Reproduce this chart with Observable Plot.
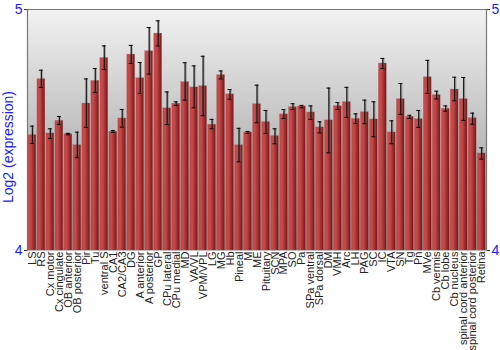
<!DOCTYPE html>
<html>
<head>
<meta charset="utf-8">
<script src="https://cdn.jsdelivr.net/npm/d3@7"></script>
<script src="https://cdn.jsdelivr.net/npm/@observablehq/plot@0.6"></script>
<style>
  body { margin: 0; background: #fff; }
  #chart svg { display: block; font-family: "Liberation Sans", Arial, sans-serif; }
</style>
</head>
<body>
<div id="chart"></div>
<script>
const regions = ["LS","RS","Cx motor","Cx cingulate","OB anterior","OB posterior","Pir","Tu","ventral S","CA1","CA2/CA3","DG","A anterior","A posterior","GP","CPu lateral","CPu medial","MD","VA/VL","VPM/VPL","LG","MG","Hb","Pineal","M","ME","Pituitary","SCN","MPA","SO","Pa","SPa ventral","SPa dorsal","DM","VMH","Arc","LH","PAG","SC","IC","VTA","SN","Tg","Pn","MVe","Cb vermis","Cb lobe","Cb nucleus","spinal cord anterior","spinal cord posterior","Retina"];
const meanValues = [4.479,4.711,4.486,4.538,4.483,4.437,4.610,4.704,4.799,4.493,4.548,4.813,4.715,4.827,4.900,4.590,4.609,4.699,4.677,4.682,4.522,4.728,4.648,4.437,4.490,4.607,4.533,4.475,4.565,4.595,4.598,4.573,4.511,4.540,4.599,4.616,4.546,4.574,4.544,4.776,4.490,4.628,4.555,4.545,4.719,4.645,4.588,4.668,4.628,4.549,4.403];
const errLow = [4.444,4.677,4.465,4.523,4.480,4.385,4.511,4.656,4.751,4.490,4.512,4.776,4.652,4.732,4.849,4.523,4.602,4.624,4.592,4.559,4.505,4.712,4.628,4.368,4.486,4.530,4.486,4.443,4.548,4.585,4.592,4.544,4.488,4.405,4.585,4.552,4.527,4.526,4.472,4.755,4.443,4.565,4.548,4.511,4.652,4.629,4.578,4.621,4.540,4.524,4.379];
const errHigh = [4.516,4.748,4.505,4.556,4.486,4.491,4.712,4.755,4.849,4.498,4.585,4.851,4.780,4.925,4.953,4.658,4.617,4.779,4.766,4.806,4.544,4.745,4.668,4.507,4.494,4.686,4.581,4.505,4.585,4.609,4.602,4.600,4.534,4.674,4.614,4.677,4.567,4.624,4.617,4.797,4.538,4.693,4.561,4.581,4.789,4.661,4.600,4.719,4.718,4.570,4.426];
const yTicks = [4, 5];
const yLabel = "Log2 (expression)";

const data = regions.map((r, i) => ({region: r, value: meanValues[i], lo: errLow[i], hi: errHigh[i]}));
const blue = "#1a1aff";

const chart = Plot.plot({
  width: 500,
  height: 350,
  marginLeft: 27,
  marginRight: 14,
  marginTop: 9,
  marginBottom: 100,
  style: {fontFamily: "'Liberation Sans', Arial, sans-serif", background: "#fff"},
  x: {domain: regions, padding: 0.12, paddingOuter: 0.1, label: null},
  y: {domain: [4, 5], label: null},
  marks: [
    Plot.frame({fill: "url(#bgGrad)", stroke: "none"}),
    Plot.barY(data, {x: "region", y1: 4, y2: "value", fill: "url(#barGrad)", stroke: "#b06060", strokeOpacity: 0.4, strokeWidth: 0.5}),
    Plot.ruleX(data, {x: "region", y1: "lo", y2: "hi", stroke: "#777", strokeWidth: 2.5, strokeOpacity: 0.45, dx: 0.5}),
    Plot.ruleX(data, {x: "region", y1: "lo", y2: "hi", stroke: "#000", strokeWidth: 1}),
    Plot.tickY(data, {x: "region", y: "lo", stroke: "#000", strokeWidth: 1, insetLeft: 2, insetRight: 2}),
    Plot.tickY(data, {x: "region", y: "hi", stroke: "#000", strokeWidth: 1, insetLeft: 2, insetRight: 2}),
    Plot.axisX({tickSize: 0, tickRotate: -90, tickPadding: 1, fontSize: 11, fill: "#222", textAnchor: "end", label: null}),
    Plot.axisY({anchor: "left", ticks: yTicks, tickFormat: d3.format("d"), tickSize: 3, tickPadding: 2, fontSize: 14, color: blue, stroke: "#333", label: null}),
    Plot.axisY({anchor: "right", ticks: yTicks, tickFormat: d3.format("d"), tickSize: 3, tickPadding: 2, fontSize: 14, color: blue, stroke: "#333", label: null}),
    Plot.text([yLabel], {frameAnchor: "left", textAnchor: "middle", rotate: -90, dx: -19, dy: 17, fontSize: 14, fill: blue, text: d => d}),
    Plot.frame({stroke: "#777", strokeWidth: 1.2, anchor: "left"}),
    Plot.frame({stroke: "#777", strokeWidth: 1.2, anchor: "right"}),
    Plot.frame({stroke: "#777", strokeWidth: 1.2, anchor: "top"})
  ]
});

// gradients
const svg = d3.select(chart);
const defs = svg.insert("defs", ":first-child");
const bg = defs.append("linearGradient").attr("id", "bgGrad").attr("x1", 0).attr("y1", 0).attr("x2", 0).attr("y2", 1);
bg.append("stop").attr("offset", "0%").attr("stop-color", "#f2f2f2");
bg.append("stop").attr("offset", "100%").attr("stop-color", "#8e8e8e");
const bar = defs.append("linearGradient").attr("id", "barGrad").attr("x1", 0).attr("y1", 0).attr("x2", 1).attr("y2", 0);
bar.append("stop").attr("offset", "0%").attr("stop-color", "#c24848");
bar.append("stop").attr("offset", "35%").attr("stop-color", "#c44a4a");
bar.append("stop").attr("offset", "100%").attr("stop-color", "#7a1414");

document.getElementById("chart").appendChild(chart);
</script>
</body>
</html>
